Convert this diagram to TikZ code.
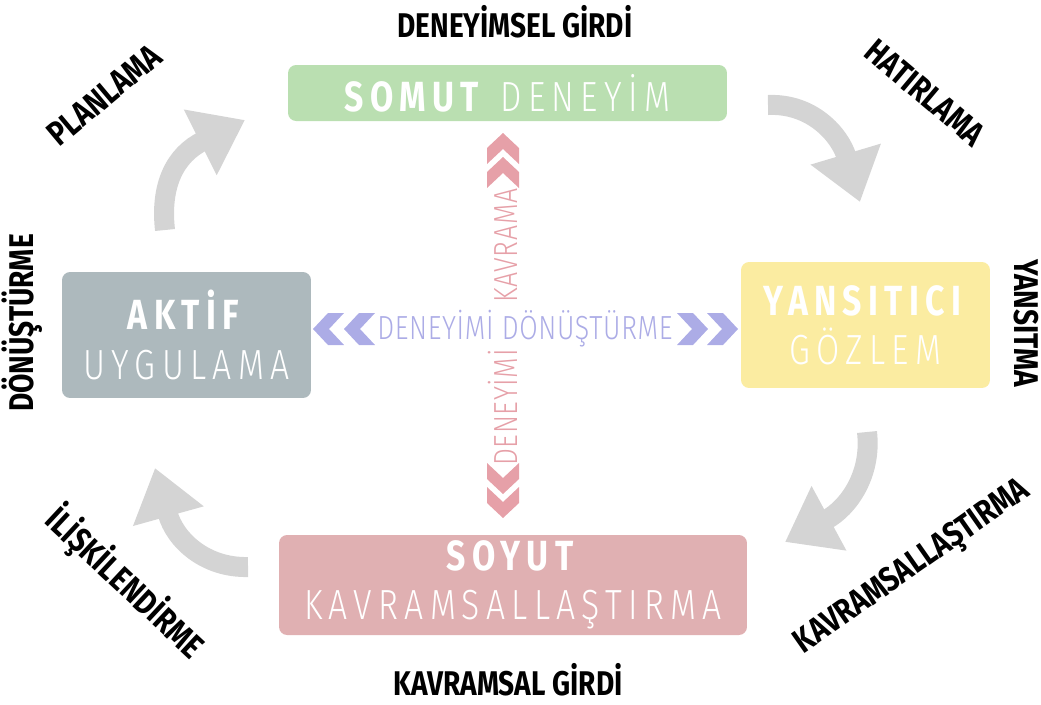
\documentclass[tikz,border=0pt]{standalone}
\usepackage{fontspec}
\setmainfont{Fira Sans}
\newfontfamily\boxfont[FakeStretch=0.8,LetterSpace=15]{Fira Sans}
\newfontfamily\boxlight[FakeStretch=0.8,LetterSpace=15]{Fira Sans Light}
\newfontfamily\tagfont[FakeStretch=0.82]{Fira Sans}
\newfontfamily\midfont[FakeStretch=0.8,LetterSpace=2]{Fira Sans Light}
\usetikzlibrary{arrows.meta,positioning,calc}

\definecolor{somutgreen}{RGB}{186,223,177}
\definecolor{aktifgray}{RGB}{173,185,189}
\definecolor{yansiyellow}{RGB}{251,236,161}
\definecolor{soyutpink}{RGB}{224,176,178}
\definecolor{cyclegray}{RGB}{212,212,212}
\definecolor{donlavender}{RGB}{172,172,230}
\definecolor{kavpink}{RGB}{230,160,168}

% one chevron, pointing right before rotation
\newcommand{\chevron}[3]{\fill[#1,shift={#2},rotate=#3] (-15,-16) -- (1,-16) -- (16,0) -- (1,16) -- (-15,16) -- (0,0) -- cycle;}

\begin{document}
\begin{tikzpicture}[x=0.02cm,y=-0.02cm]
\tikzset{stage/.style={rectangle,rounded corners=0.16cm,inner sep=0pt,
  text=white,align=center,font=\boxfont\fontsize{24}{28}\selectfont},
  tag/.style={inner sep=0pt,text=black,font=\tagfont\bfseries\fontsize{19.5}{22}\selectfont},
  cyclearrow/.style={draw=cyclegray,line width=4mm,-{Triangle[length=10mm,width=14mm]}}}
\useasboundingbox (0,0) rectangle (1041,704);

% the four stages
\node[stage,fill=somutgreen,minimum width=8.78cm,minimum height=1.12cm]
  (somut) at (507.5,93) {\textbf{SOMUT} {\boxlight DENEYİM}};
\node[stage,fill=aktifgray,minimum width=4.98cm,minimum height=2.52cm]
  (aktif) at (186.5,335) {\textbf{AKTİF}\\{\boxlight UYGULAMA}};
\node[stage,fill=yansiyellow,minimum width=4.98cm,minimum height=2.52cm]
  (yansitici) at (865.5,325) {\textbf{YANSITICI}\\{\boxlight GÖZLEM}};
\node[stage,fill=soyutpink,minimum width=9.36cm,minimum height=2cm]
  (soyut) at (513,585) {\textbf{SOYUT}\\{\boxlight KAVRAMSALLAŞTIRMA}};

% inputs
\node[tag] (deneyimsel) at (515,22) {DENEYİMSEL GİRDİ};
\node[tag] (kavramsal) at (508,680) {KAVRAMSAL GİRDİ};

% side labels
\node[tag,rotate=40] (planlama) at (104,95) {PLANLAMA};
\node[tag,rotate=-40] (hatirlama) at (925,93) {HATIRLAMA};
\node[tag,rotate=-90] (yansitma) at (1026,323) {YANSITMA};
\node[tag,rotate=90] (donusturme) at (22,323) {DÖNÜŞTÜRME};
\node[tag,rotate=-43] (iliskilendirme) at (125,583) {İLİŞKİLENDİRME};
\node[tag,rotate=35] (kavramsallastirma) at (913,568) {KAVRAMSALLAŞTIRMA};

% cycle arrows
\coordinate (planS) at (165,230);  \coordinate (planE) at (245,120);
\coordinate (hatS) at (768,105);   \coordinate (hatE) at (860,202);
\coordinate (kavS) at (867,432);   \coordinate (kavE) at (785,542);
\coordinate (ilisS) at (248,567);  \coordinate (ilisE) at (155,468);
\draw[cyclearrow] (planS) .. controls (160,185) and (175,155) .. (planE);
\draw[cyclearrow] (hatS) .. controls (812,103) and (840,135) .. (hatE);
\draw[cyclearrow] (kavS) .. controls (872,475) and (848,508) .. (kavE);
\draw[cyclearrow] (ilisS) .. controls (205,568) and (175,540) .. (ilisE);

% transforming the experience
\node[text=donlavender,inner sep=0pt,font=\midfont\fontsize{19}{21}\selectfont]
  (donusum) at (525,329) {DENEYİMİ DÖNÜŞTÜRME};
\chevron{donlavender}{(692,329)}{0}
\chevron{donlavender}{(722,329)}{0}
\chevron{donlavender}{(329,329)}{180}
\chevron{donlavender}{(360,329)}{180}

% grasping the experience
\node[text=kavpink,rotate=90,inner sep=0pt,font=\midfont\fontsize{19}{21}\selectfont]
  (kavrama) at (503,327) {DENEYİMİ \hspace{0.9em} KAVRAMA};
\chevron{kavpink}{(503,149)}{90}
\chevron{kavpink}{(503,173)}{90}
\chevron{kavpink}{(503,478)}{-90}
\chevron{kavpink}{(503,502)}{-90}
\end{tikzpicture}
\end{document}
